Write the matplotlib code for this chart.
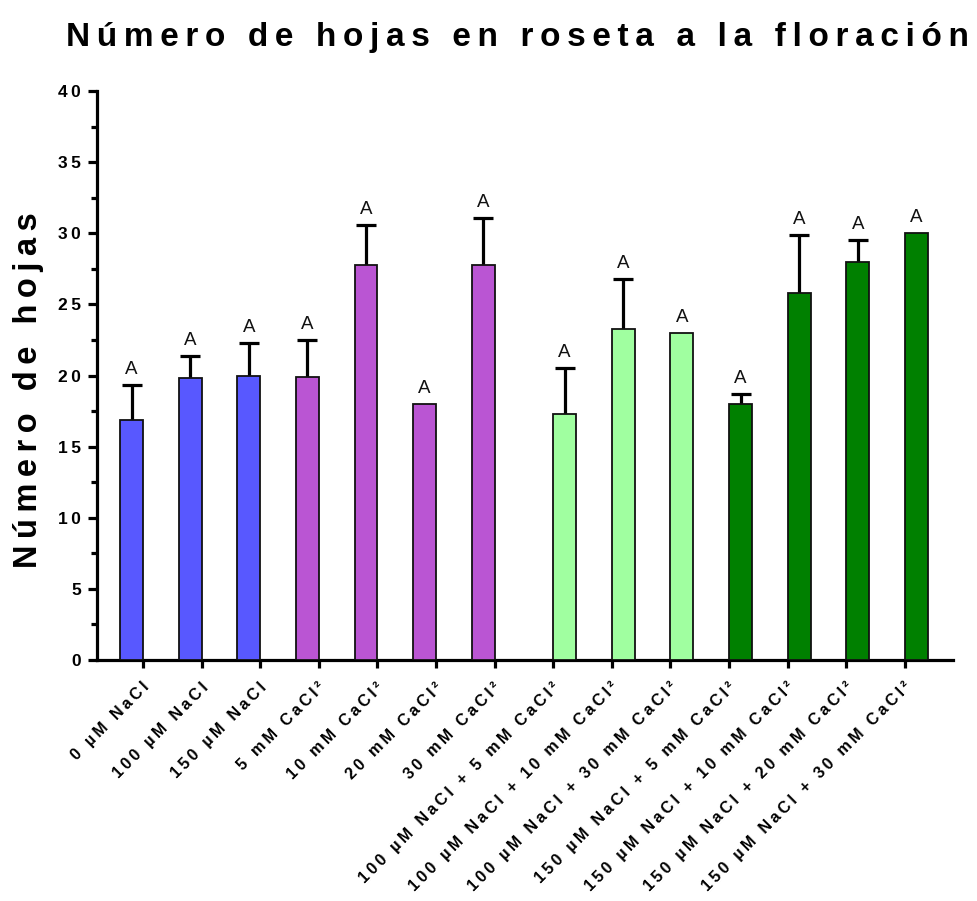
import numpy as np
import matplotlib
matplotlib.use("Agg")
import matplotlib.pyplot as plt
from matplotlib.ticker import MultipleLocator, FixedLocator
from matplotlib.transforms import ScaledTranslation

# ---- data ----
categories = [
    "0 µM NaCl", "100 µM NaCl", "150 µM NaCl",
    "5 mM CaCl²", "10 mM CaCl²", "20 mM CaCl²", "30 mM CaCl²",
    "100 µM NaCl + 5 mM CaCl²", "100 µM NaCl + 10 mM CaCl²", "100 µM NaCl + 30 mM CaCl²",
    "150 µM NaCl + 5 mM CaCl²", "150 µM NaCl + 10 mM CaCl²",
    "150 µM NaCl + 20 mM CaCl²", "150 µM NaCl + 30 mM CaCl²",
]
means = [16.9, 19.8, 20.0, 19.9, 27.8, 18.0, 27.8,
         17.3, 23.3, 23.0, 18.0, 25.8, 28.0, 30.0]
errors = [2.4, 1.55, 2.3, 2.6, 2.8, 0.0, 3.25,
          3.2, 3.5, 0.0, 0.7, 4.1, 1.5, 0.0]
letters = ["A"] * 14
groups = [0, 0, 0, 1, 1, 1, 1, 2, 2, 2, 3, 3, 3, 3]
group_colors = ["#5858FF", "#BA55D3", "#A0FFA0", "#008000"]
yticks = [0, 5, 10, 15, 20, 25, 30, 35, 40]

title = "Número de hojas en roseta a la floración"
ylabel = "Número de hojas"

FAMILY = ["Liberation Sans", "DejaVu Sans"]
plt.rcParams["font.family"] = FAMILY
THIN = "\u2009"


def tracked(s):
    """Letter-spaced version of a label."""
    return THIN.join(s)


fig = plt.figure(figsize=(9.78, 9.01), dpi=100)
ax = fig.add_axes([97 / 978, 1 - 660 / 901, (953 - 97) / 978, (660 - 91) / 901])

n = len(categories)
pos = np.arange(n)
bar_w = 0.39
# first block of bars sits left of its tick, second block right of it
shift = np.where(pos < 7, -bar_w / 2, bar_w / 2)
xb = pos + shift
colors = [group_colors[g] for g in groups]

ax.bar(xb, means, width=bar_w, color=colors, edgecolor="#111111",
       linewidth=1.3, zorder=3)

# upper error bars only
err = np.array(errors)
m = np.array(means)
has = err > 0
eb = ax.errorbar(xb[has], m[has], yerr=[np.zeros(has.sum()), err[has]],
                 fmt="none", ecolor="black", elinewidth=2.3, capsize=7.5,
                 capthick=2.3, zorder=2)
eb[1][0].set_visible(False)

# significance letters
for x, v, e, t in zip(xb, means, errors, letters):
    ax.annotate(t, (x, v + e), xytext=(0, 8), textcoords="offset points",
                ha="center", va="baseline", fontsize=13.5, color="#111111")

ax.set_xlim(-0.785, 13.82)
ax.set_ylim(0, 40)

for side in ("top", "right"):
    ax.spines[side].set_visible(False)
for side in ("left", "bottom"):
    ax.spines[side].set_linewidth(2.3)

ax.yaxis.set_major_locator(FixedLocator(yticks))
ax.yaxis.set_minor_locator(MultipleLocator(2.5))
ax.set_yticklabels([tracked(str(t)) for t in yticks], fontsize=12.5,
                   fontweight="bold")
ax.tick_params(axis="y", which="major", length=6.5, width=2.3, pad=5)
ax.tick_params(axis="y", which="minor", length=4.3, width=2.3)

ax.set_xticks(pos)
ax.set_xticklabels([tracked(c) for c in categories], rotation=45,
                   ha="right", va="center", rotation_mode="anchor",
                   fontsize=11.6, fontweight="bold")
ax.tick_params(axis="x", which="major", length=6, width=2.3, pad=12)
off = ScaledTranslation(4 / 100, 0, fig.dpi_scale_trans)
for lab in ax.get_xticklabels():
    lab.set_transform(lab.get_transform() + off)

fig.text(29 / 978, 1 - 390 / 901, tracked(ylabel), rotation=90,
         ha="center", va="center", fontsize=23.5, fontweight="bold")

tt = fig.text(518 / 978, 1 - 46 / 901, tracked(title), ha="center",
              va="baseline", fontsize=24, fontweight="bold")

fig.savefig("out.png", dpi=100, facecolor="white")
